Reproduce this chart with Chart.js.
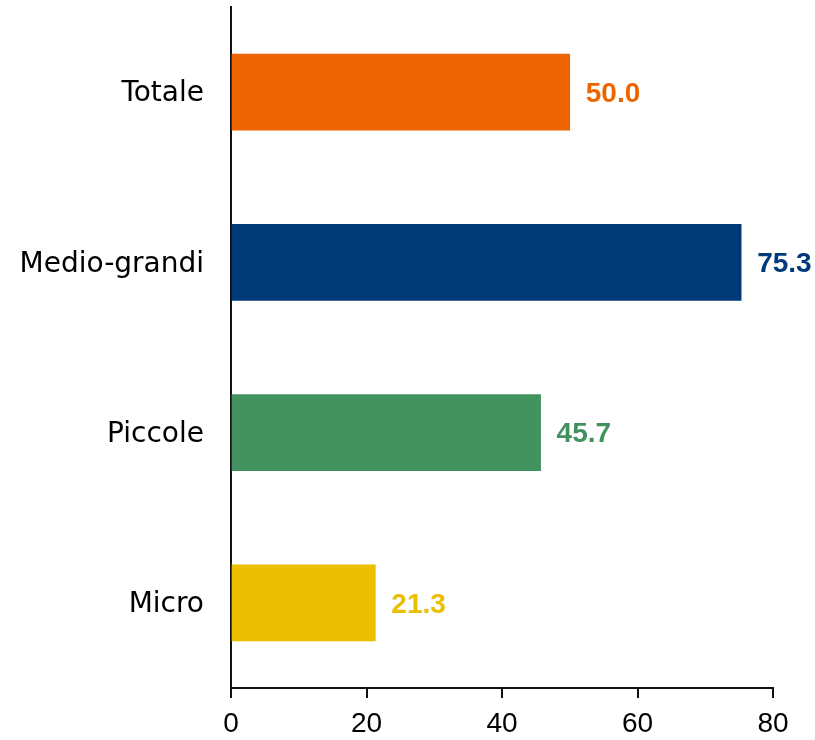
<!DOCTYPE html>
<html>
<head>
<meta charset="utf-8">
<script src="https://cdn.jsdelivr.net/npm/chart.js@4"></script>
<style>
html,body{margin:0;padding:0;background:#fff;}
#wrap{width:815px;height:740px;}
</style>
</head>
<body>
<div id="wrap"><canvas id="c" width="815" height="740"></canvas></div>
<script>
const categories = ["Totale", "Medio-grandi", "Piccole", "Micro"];
const values = [50.0, 75.3, 45.7, 21.3];
const barColors = ["#EC6500", "#003A78", "#41925E", "#ECBE00"];
const xTicks = [0, 20, 40, 60, 80];

const valueLabels = {
  id: 'valueLabels',
  afterDatasetsDraw(chart) {
    const ctx = chart.ctx;
    const meta = chart.getDatasetMeta(0);
    ctx.save();
    ctx.font = 'bold 28px "Liberation Sans", Arial, sans-serif';
    ctx.textAlign = 'left';
    ctx.textBaseline = 'middle';
    meta.data.forEach((bar, i) => {
      ctx.fillStyle = barColors[i];
      ctx.fillText(values[i].toFixed(1), bar.x + 16, bar.y + 2);
    });
    ctx.restore();
  }
};

new Chart(document.getElementById('c'), {
  type: 'bar',
  data: {
    labels: categories,
    datasets: [{
      data: values,
      backgroundColor: barColors,
      borderWidth: 0,
      barThickness: 76
    }]
  },
  options: {
    indexAxis: 'y',
    responsive: false,
    animation: false,
    layout: { padding: { top: 7, right: 42, left: 0, bottom: 0 } },
    plugins: { legend: { display: false }, tooltip: { enabled: false } },
    scales: {
      x: {
        min: 0, max: 80,
        afterBuildTicks(scale) { scale.ticks = xTicks.map(v => ({ value: v })); },
        afterFit(scale) { scale.height = 52; scale.paddingLeft = 0; },
        border: { display: true, color: '#111', width: 2 },
        grid: { display: true, drawOnChartArea: false, drawTicks: true, tickLength: 10, color: '#111', lineWidth: 2 },
        ticks: {
          color: '#000',
          padding: 9,
          font: { family: '"Liberation Sans", Arial, sans-serif', size: 28 }
        }
      },
      y: {
        afterFit(scale) { scale.width = 231; scale.paddingTop = 0; scale.paddingBottom = 0; },
        border: { display: true, color: '#111', width: 2 },
        grid: { display: false, drawTicks: false },
        ticks: {
          color: '#000',
          padding: 27,
          labelOffset: 2,
          font: { family: '"DejaVu Sans", sans-serif', size: 28 }
        }
      }
    }
  },
  plugins: [valueLabels]
});
</script>
</body>
</html>
